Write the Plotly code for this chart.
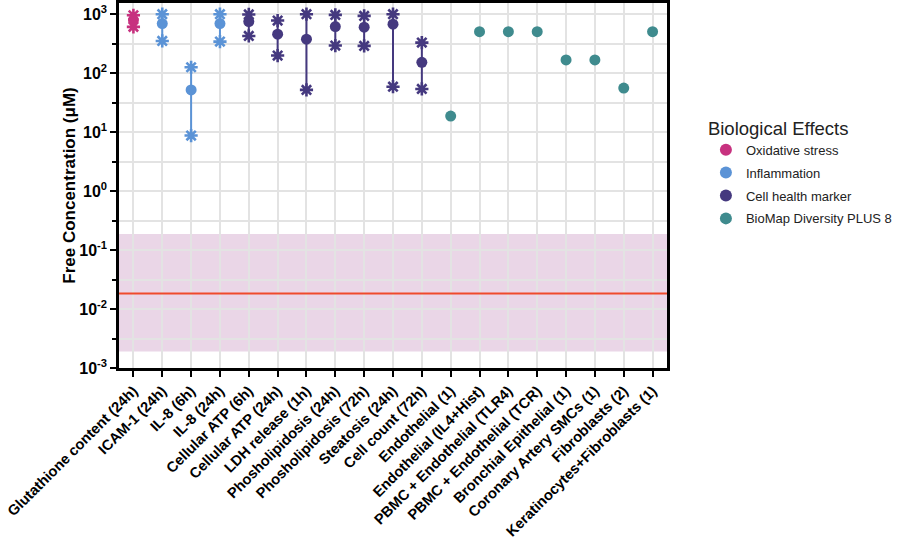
import plotly.graph_objects as go

categories = ["Glutathione content (24h)", "ICAM-1 (24h)", "IL-8 (6h)", "IL-8 (24h)",
              "Cellular ATP (6h)", "Cellular ATP (24h)", "LDH release (1h)",
              "Phosholipidosis (24h)", "Phosholipidosis (72h)", "Steatosis (24h)",
              "Cell count (72h)", "Endothelial (1)", "Endothelial (IL4+Hist)",
              "PBMC + Endothelial (TLR4)", "PBMC + Endothelial (TCR)",
              "Bronchial Epithelial (1)", "Coronary Artery SMCs (1)", "Fibroblasts (2)",
              "Keratinocytes+Fibroblasts (1)"]
groups = ["Oxidative stress", "Inflammation", "Inflammation", "Inflammation",
          "Cell health marker", "Cell health marker", "Cell health marker",
          "Cell health marker", "Cell health marker", "Cell health marker",
          "Cell health marker", "BioMap Diversity PLUS 8", "BioMap Diversity PLUS 8",
          "BioMap Diversity PLUS 8", "BioMap Diversity PLUS 8", "BioMap Diversity PLUS 8",
          "BioMap Diversity PLUS 8", "BioMap Diversity PLUS 8", "BioMap Diversity PLUS 8"]
mid_vals = [795, 695, 52, 695, 750, 458, 377, 616, 602, 677, 153,
            18.7, 505, 505, 505, 168, 168, 56, 505]
low_vals = [610, 352, 8.75, 343, 428, 199, 52, 294, 290, 59, 54,
            None, None, None, None, None, None, None, None]
high_vals = [960, 1000, 126, 1000, 990, 780, 1000, 973, 935, 1000, 330,
             None, None, None, None, None, None, None, None]

band_low, band_high = 0.0019, 0.187
ref_line = 0.0184

group_order = ["Oxidative stress", "Inflammation", "Cell health marker", "BioMap Diversity PLUS 8"]
group_colors = {"Oxidative stress": "#c7317f", "Inflammation": "#5b93d6",
                "Cell health marker": "#45397f", "BioMap Diversity PLUS 8": "#3f8b8e"}

ytick_vals = [1e-3, 1e-2, 1e-1, 1e0, 1e1, 1e2, 1e3]
ytick_text = ["10<sup>-3</sup>", "10<sup>-2</sup>", "10<sup>-1</sup>", "10<sup>0</sup>",
              "10<sup>1</sup>", "10<sup>2</sup>", "10<sup>3</sup>"]
ytick_minor = [10 ** (k + 0.5) for k in range(-3, 3)]

fig = go.Figure()

fig.add_hrect(y0=band_low, y1=band_high, fillcolor="#ead6e7", line_width=0, layer="below")
fig.add_hline(y=ref_line, line_color="#ef4b2c", line_width=2)

font_family = "Arial, Liberation Sans, Helvetica, sans-serif"

for g in group_order:
    col = group_colors[g]
    lx, ly, sx, sy, mx, my = [], [], [], [], [], []
    for c, gg, m, lo, hi in zip(categories, groups, mid_vals, low_vals, high_vals):
        if gg != g:
            continue
        mx.append(c); my.append(m)
        if lo is not None and hi is not None:
            lx += [c, c, None]; ly += [lo, hi, None]
            sx += [c, c]; sy += [lo, hi]
    if lx:
        fig.add_trace(go.Scatter(x=lx, y=ly, mode="lines", line=dict(color=col, width=2),
                                 showlegend=False, hoverinfo="skip", legendgroup=g))
    if sx:
        fig.add_trace(go.Scatter(x=sx, y=sy, mode="markers",
                                 marker=dict(symbol="asterisk-open", size=11, color=col,
                                             line=dict(color=col, width=2.6)),
                                 showlegend=False, legendgroup=g))
    fig.add_trace(go.Scatter(x=mx, y=my, mode="markers", name=g, legendgroup=g,
                             marker=dict(symbol="circle", size=11, color=col)))

fig.update_layout(
    width=900, height=542,
    margin=dict(l=119, r=233, t=3, b=174, autoexpand=False),
    plot_bgcolor="white", paper_bgcolor="white",
    font=dict(family=font_family, color="black"),
    legend=dict(title=dict(text="Biological Effects", font=dict(size=18.5, color="#222")),
                font=dict(size=13, color="#222"),
                x=1.071, xanchor="left", y=0.705, yanchor="top",
                tracegroupgap=3, itemsizing="constant"),
    xaxis=dict(type="category", categoryorder="array", categoryarray=categories,
               range=[-0.5, 18.5], tickangle=-45, automargin=False,
               tickfont=dict(size=14.6, family=font_family, weight="bold"),
               showline=True, linecolor="black", linewidth=2.5, mirror=True,
               ticks="outside", ticklen=6, tickwidth=2, tickcolor="black",
               showgrid=True, gridcolor="#e3e3e3", gridwidth=1.5, zeroline=False),
    yaxis=dict(type="log", range=[-3, 3.19], automargin=False,
               tickvals=ytick_vals, ticktext=ytick_text,
               tickfont=dict(size=16, family=font_family, weight="bold"),
               showline=True, linecolor="black", linewidth=2.5, mirror=True,
               ticks="outside", ticklen=6, tickwidth=2, tickcolor="black",
               showgrid=True, gridcolor="#e3e3e3", gridwidth=1.5,
               minor=dict(tickvals=ytick_minor, ticks="outside", ticklen=4, tickwidth=2,
                          tickcolor="black", showgrid=True, gridcolor="#e3e3e3", gridwidth=1.5),
               title=dict(text="Free Concentration (μM)",
                          font=dict(size=17, family=font_family, weight="bold"),
                          standoff=0)),
)

fig.write_html("out.html", config={"displayModeBar": False},
               post_script="document.body.style.margin='0';")
